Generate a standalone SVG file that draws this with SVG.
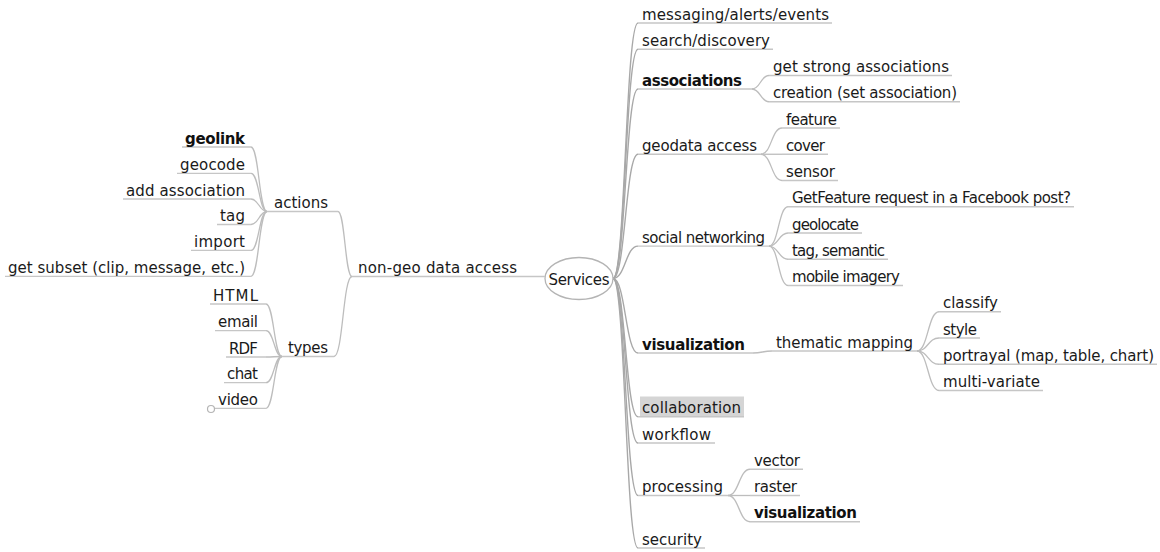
<svg xmlns="http://www.w3.org/2000/svg" width="1160" height="552" viewBox="0 0 1160 552">
  <style>
    text { font-family: "DejaVu Sans", "Liberation Sans", sans-serif; font-size: 15px; fill: #1a1a1a; }
    .b { font-weight: bold; fill: #111; }
    .e { text-anchor: end; }
    .ul { stroke: #c6c6c6; stroke-width: 1.3; fill: none; }
    .edge { stroke: #bdbdbd; stroke-width: 1.3; fill: none; }
    .root-edge { stroke: #a8a8a8; stroke-width: 1.4; fill: none; }
  </style>
  <rect width="1160" height="552" fill="#ffffff"/>

  <!-- connectors -->
  <g id="connectors">
    <!-- root to right-hand branches -->
    <path class="root-edge" d="M613 278.5 C625.5 278.5 625.5 23 638 23"/>
    <path class="root-edge" d="M613 278.5 C625.5 278.5 625.5 49.25 638 49.25"/>
    <path class="root-edge" d="M613 278.5 C625.5 278.5 625.5 89 638 89"/>
    <path class="root-edge" d="M613 278.5 C625.5 278.5 625.5 154.25 638 154.25"/>
    <path class="root-edge" d="M613 278.5 C625.5 278.5 625.5 246.1 638 246.1"/>
    <path class="root-edge" d="M613 278.5 C625.5 278.5 625.5 353 638 353"/>
    <path class="root-edge" d="M613 278.5 C625.5 278.5 625.5 416.75 638 416.75"/>
    <path class="root-edge" d="M613 278.5 C625.5 278.5 625.5 443 638 443"/>
    <path class="root-edge" d="M613 278.5 C625.5 278.5 625.5 495.5 638 495.5"/>
    <path class="root-edge" d="M613 278.5 C625.5 278.5 625.5 548 638 548"/>

    <!-- associations -->
    <path class="edge" d="M752 89 C760.5 89 760.5 75.5 769 75.5"/>
    <path class="edge" d="M752 89 C760.5 89 760.5 101.75 769 101.75"/>
    <!-- geodata access -->
    <path class="edge" d="M761 154.25 C771.5 154.25 771.5 128 782 128"/>
    <path class="edge" d="M761 154.25 C771.5 154.25 771.5 154.25 782 154.25"/>
    <path class="edge" d="M761 154.25 C771.5 154.25 771.5 180.5 782 180.5"/>
    <!-- social networking -->
    <path class="edge" d="M769 246.1 C778.5 246.1 778.5 206.75 788 206.75"/>
    <path class="edge" d="M769 246.1 C778.5 246.1 778.5 233 788 233"/>
    <path class="edge" d="M769 246.1 C778.5 246.1 778.5 259.25 788 259.25"/>
    <path class="edge" d="M769 246.1 C778.5 246.1 778.5 285.5 788 285.5"/>
    <!-- visualization -> thematic mapping -->
    <path class="edge" d="M753 353 C762.5 353 762.5 351 772 351"/>
    <!-- thematic mapping -->
    <path class="edge" d="M917 351 C928 351 928 311.75 939 311.75"/>
    <path class="edge" d="M917 351 C928 351 928 338 939 338"/>
    <path class="edge" d="M917 351 C928 351 928 364.25 939 364.25"/>
    <path class="edge" d="M917 351 C928 351 928 390.5 939 390.5"/>
    <!-- processing -->
    <path class="edge" d="M728 495.5 C739 495.5 739 469.25 750 469.25"/>
    <path class="edge" d="M728 495.5 C739 495.5 739 495.5 750 495.5"/>
    <path class="edge" d="M728 495.5 C739 495.5 739 521.75 750 521.75"/>

    <!-- non-geo data access -> actions / types -->
    <path class="edge" d="M352 276.5 C345 276.5 345 211.5 338 211.5"/>
    <path class="edge" d="M352 276.5 C343 276.5 343 356.5 334 356.5"/>
    <!-- actions -->
    <path class="edge" d="M267 211.5 C259 211.5 259 147 251 147"/>
    <path class="edge" d="M267 211.5 C259 211.5 259 173.3 251 173.3"/>
    <path class="edge" d="M267 211.5 C259 211.5 259 199 251 199"/>
    <path class="edge" d="M267 211.5 C259 211.5 259 224.5 251 224.5"/>
    <path class="edge" d="M267 211.5 C259 211.5 259 250.3 251 250.3"/>
    <path class="edge" d="M267 211.5 C259 211.5 259 276.3 251 276.3"/>
    <!-- types -->
    <path class="edge" d="M282 356.5 C274 356.5 274 304 266 304"/>
    <path class="edge" d="M282 356.5 C274 356.5 274 330.7 266 330.7"/>
    <path class="edge" d="M282 356.5 C274 356.5 274 357 266 357"/>
    <path class="edge" d="M282 356.5 C274 356.5 274 382.7 266 382.7"/>
    <path class="edge" d="M282 356.5 C274 356.5 274 408.3 266 408.3"/>
  </g>

  <!-- root -->
  <g id="services">
    <ellipse cx="579" cy="278.5" rx="34" ry="21" fill="#ffffff" stroke="#b4b4b4" stroke-width="1.3"/>
    <text x="579" y="284.5" text-anchor="middle" textLength="61">Services</text>
  </g>

  <!-- right-hand branches -->
  <g id="messaging">
    <line class="ul" x1="638" y1="23" x2="832" y2="23"/>
    <text x="642" y="19.5" textLength="187">messaging/alerts/events</text>
  </g>
  <g id="search">
    <line class="ul" x1="638" y1="49.25" x2="773" y2="49.25"/>
    <text x="642" y="45.75" textLength="128">search/discovery</text>
  </g>
  <g id="associations">
    <line class="ul" x1="638" y1="89" x2="752" y2="89"/>
    <text class="b" x="642" y="85.5" textLength="100">associations</text>
  </g>
  <g id="get-strong-associations">
    <line class="ul" x1="769" y1="75.5" x2="952" y2="75.5"/>
    <text x="773" y="72" textLength="176">get strong associations</text>
  </g>
  <g id="creation">
    <line class="ul" x1="769" y1="101.75" x2="960" y2="101.75"/>
    <text x="773" y="98.25" textLength="184">creation (set association)</text>
  </g>
  <g id="geodata-access">
    <line class="ul" x1="638" y1="154.25" x2="761" y2="154.25"/>
    <text x="642" y="150.75" textLength="115">geodata access</text>
  </g>
  <g id="feature">
    <line class="ul" x1="782" y1="128" x2="840" y2="128"/>
    <text x="786" y="124.5" textLength="51">feature</text>
  </g>
  <g id="cover">
    <line class="ul" x1="782" y1="154.25" x2="828" y2="154.25"/>
    <text x="786" y="150.75" textLength="39">cover</text>
  </g>
  <g id="sensor">
    <line class="ul" x1="782" y1="180.5" x2="838" y2="180.5"/>
    <text x="786" y="177" textLength="49">sensor</text>
  </g>
  <g id="social-networking">
    <line class="ul" x1="638" y1="246.1" x2="769" y2="246.1"/>
    <text x="642" y="242.6" textLength="123">social networking</text>
  </g>
  <g id="getfeature">
    <line class="ul" x1="788" y1="206.75" x2="1074" y2="206.75"/>
    <text x="792" y="203.25" textLength="279">GetFeature request in a Facebook post?</text>
  </g>
  <g id="geolocate">
    <line class="ul" x1="788" y1="233" x2="862" y2="233"/>
    <text x="792" y="229.5" textLength="67">geolocate</text>
  </g>
  <g id="tag-semantic">
    <line class="ul" x1="788" y1="259.25" x2="888" y2="259.25"/>
    <text x="792" y="255.75" textLength="93">tag, semantic</text>
  </g>
  <g id="mobile-imagery">
    <line class="ul" x1="788" y1="285.5" x2="903" y2="285.5"/>
    <text x="792" y="282" textLength="108">mobile imagery</text>
  </g>
  <g id="visualization">
    <line class="ul" x1="638" y1="353" x2="753" y2="353"/>
    <text class="b" x="642" y="349.5" textLength="103">visualization</text>
  </g>
  <g id="thematic-mapping">
    <line class="ul" x1="772" y1="351" x2="917" y2="351"/>
    <text x="776" y="347.5" textLength="137">thematic mapping</text>
  </g>
  <g id="classify">
    <line class="ul" x1="939" y1="311.75" x2="1001" y2="311.75"/>
    <text x="943" y="308.25" textLength="55">classify</text>
  </g>
  <g id="style">
    <line class="ul" x1="939" y1="338" x2="980" y2="338"/>
    <text x="943" y="334.5" textLength="34">style</text>
  </g>
  <g id="portrayal">
    <line class="ul" x1="939" y1="364.25" x2="1157" y2="364.25"/>
    <text x="943" y="360.75" textLength="211">portrayal (map, table, chart)</text>
  </g>
  <g id="multi-variate">
    <line class="ul" x1="939" y1="390.5" x2="1043" y2="390.5"/>
    <text x="943" y="387" textLength="97">multi-variate</text>
  </g>
  <g id="collaboration">
    <rect x="640" y="396.5" width="104" height="20.5" fill="#d5d5d5"/>
    <line class="ul" x1="638" y1="416.75" x2="744" y2="416.75"/>
    <text x="642" y="413.25" textLength="99">collaboration</text>
  </g>
  <g id="workflow">
    <line class="ul" x1="638" y1="443" x2="715" y2="443"/>
    <text x="642" y="439.5" textLength="69">workflow</text>
  </g>
  <g id="processing">
    <line class="ul" x1="638" y1="495.5" x2="728" y2="495.5"/>
    <text x="642" y="492" textLength="81">processing</text>
  </g>
  <g id="vector">
    <line class="ul" x1="750" y1="469.25" x2="803" y2="469.25"/>
    <text x="754" y="465.75" textLength="46">vector</text>
  </g>
  <g id="raster">
    <line class="ul" x1="750" y1="495.5" x2="800" y2="495.5"/>
    <text x="754" y="492" textLength="43">raster</text>
  </g>
  <g id="processing-visualization">
    <line class="ul" x1="750" y1="521.75" x2="860" y2="521.75"/>
    <text class="b" x="754" y="518.25" textLength="103">visualization</text>
  </g>
  <g id="security">
    <line class="ul" x1="638" y1="548" x2="705" y2="548"/>
    <text x="642" y="544.5" textLength="60">security</text>
  </g>

  <!-- left-hand branch -->
  <g id="non-geo-data-access">
    <line class="ul" x1="352" y1="276.5" x2="545" y2="276.5"/>
    <text x="358" y="273" textLength="159">non-geo data access</text>
  </g>
  <g id="actions">
    <line class="ul" x1="267" y1="211.5" x2="338" y2="211.5"/>
    <text x="274" y="208" textLength="54">actions</text>
  </g>
  <g id="geolink">
    <line class="ul" x1="182" y1="147" x2="251" y2="147"/>
    <text class="b e" x="245" y="143.5" textLength="60">geolink</text>
  </g>
  <g id="geocode">
    <line class="ul" x1="177" y1="173.3" x2="251" y2="173.3"/>
    <text class="e" x="245" y="169.8" textLength="65">geocode</text>
  </g>
  <g id="add-association">
    <line class="ul" x1="123" y1="199" x2="251" y2="199"/>
    <text class="e" x="245" y="195.5" textLength="119">add association</text>
  </g>
  <g id="tag">
    <line class="ul" x1="217" y1="224.5" x2="251" y2="224.5"/>
    <text class="e" x="245" y="221" textLength="25">tag</text>
  </g>
  <g id="import">
    <line class="ul" x1="191" y1="250.3" x2="251" y2="250.3"/>
    <text class="e" x="245" y="246.8" textLength="51">import</text>
  </g>
  <g id="get-subset">
    <line class="ul" x1="5" y1="276.3" x2="251" y2="276.3"/>
    <text class="e" x="245" y="272.8" textLength="237">get subset (clip, message, etc.)</text>
  </g>
  <g id="types">
    <line class="ul" x1="282" y1="356.5" x2="334" y2="356.5"/>
    <text x="288" y="353" textLength="40">types</text>
  </g>
  <g id="html">
    <line class="ul" x1="210" y1="304" x2="266" y2="304"/>
    <text class="e" x="258" y="300.5" textLength="45">HTML</text>
  </g>
  <g id="email">
    <line class="ul" x1="215" y1="330.7" x2="266" y2="330.7"/>
    <text class="e" x="258" y="327.2" textLength="40">email</text>
  </g>
  <g id="rdf">
    <line class="ul" x1="226" y1="357" x2="266" y2="357"/>
    <text class="e" x="258" y="353.5" textLength="29">RDF</text>
  </g>
  <g id="chat">
    <line class="ul" x1="224" y1="382.7" x2="266" y2="382.7"/>
    <text class="e" x="258" y="379.2" textLength="31">chat</text>
  </g>
  <g id="video">
    <line class="ul" x1="215" y1="408.3" x2="266" y2="408.3"/>
    <circle cx="211" cy="409" r="3.5" fill="#ffffff" stroke="#b4b4b4" stroke-width="1.2"/>
    <text class="e" x="258" y="404.8" textLength="40">video</text>
  </g>
</svg>
